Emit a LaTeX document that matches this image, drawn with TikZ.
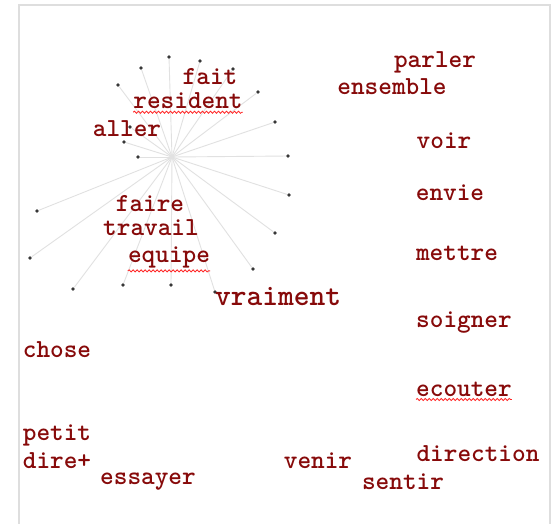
\documentclass[tikz,border=0pt]{standalone}
\usepackage{fontspec}
\usetikzlibrary{decorations.pathmorphing}
\definecolor{word}{RGB}{135,10,10}
\definecolor{spoke}{RGB}{225,225,225}
\definecolor{frame}{RGB}{222,222,222}
\definecolor{dotc}{RGB}{55,55,55}
\tikzset{
  w/.style={text=word,font=\ttfamily\bfseries\fontsize{26}{26}\selectfont,inner sep=0pt,anchor=center},
  wbig/.style={w,font=\ttfamily\bfseries\fontsize{30}{30}\selectfont},
  pt/.style={circle,fill=dotc,inner sep=0pt,minimum size=3.8pt},
  spokeline/.style={draw=spoke,line width=0.9pt},
  squiggle/.style={draw=red!85!white,line width=0.8pt,decorate,
    decoration={snake,amplitude=1.1pt,segment length=4pt}}
}
\begin{document}
\begin{tikzpicture}[x=1pt,y=-1pt]
\useasboundingbox (0,0) rectangle (555,523);
\fill[white] (0,0) rectangle (555,523);
\draw[frame,line width=1.2pt] (19,526) -- (19,5) -- (550,5) -- (550,526);

% star of connections
\coordinate (hub) at (172,157);
\foreach \n/\x/\y in {a/169/57,b/200/61,c/141/68,d/233/69,e/118/85,f/258/92,
  g/275/122,h/130/127,i/124/142,j/138/157,k/288/156,l/289/195,m/37/211,
  n/275/233,o/30/258,p/253/269,q/73/289,r/123/285,s/171/285,t/215/292}{
  \node[pt] (d\n) at (\x,\y) {};
  \draw[spokeline] (hub) -- (d\n);
}

% words
\node[w] (fait) at (210,77) {fait};
\node[w] (resident) at (188,101) {resident};
\node[w] (aller) at (127,129) {aller};
\node[w] (faire) at (150,204) {faire};
\node[w] (travail) at (151,228) {travail};
\node[w] (equipe) at (169,257) {equipe};
\node[wbig] (vraiment) at (278,296) {vraiment};
\node[w] (parler) at (435,62) {parler};
\node[w] (ensemble) at (392,87) {ensemble};
\node[w] (voir) at (444,141) {voir};
\node[w] (envie) at (450,193) {envie};
\node[w] (mettre) at (457,253) {mettre};
\node[w] (soigner) at (464,323) {soigner};
\node[w] (chose) at (57,350) {chose};
\node[w] (ecouter) at (464,389) {ecouter};
\node[w] (petit) at (57,435) {petit};
\node[w] (dire) at (57,461) {dire+};
\node[w] (essayer) at (148,482) {essayer};
\node[w] (venir) at (318,461) {venir};
\node[w] (sentir) at (403,482) {sentir};
\node[w] (direction) at (478,454) {direction};

% spelling marks under some words
\foreach \nm in {resident,equipe,ecouter}{
  \draw[squiggle] ([yshift=-3pt]\nm.south west) -- ([yshift=-3pt]\nm.south east);
}
\end{tikzpicture}
\end{document}
